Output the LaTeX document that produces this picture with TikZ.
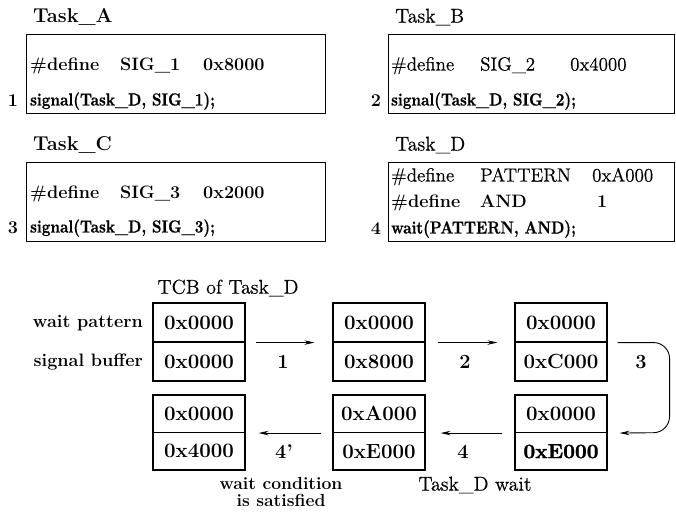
\documentclass[tikz,border=0pt]{standalone}
\usepackage{fontspec}
\usetikzlibrary{arrows.meta}
\newfontface\heavyface{lmroman10-bold.otf}[FakeBold=1.2]
\newfontface\callface{lmroman10-bold.otf}[FakeBold=0.7]
\newfontface\medface{lmroman12-regular.otf}[FakeBold=0.5]
\begin{document}
\begin{tikzpicture}[x=1pt,y=-1pt,
  title/.style={anchor=west, inner sep=0pt, font=\medface\fontsize{20}{24}\selectfont},
  btitle/.style={title, font=\bfseries\fontsize{20}{24}\selectfont},
  code/.style={anchor=west, inner sep=0pt, text height=13pt, text depth=4pt,
    font=\bfseries\fontsize{18}{21}\selectfont},
  rcode/.style={code, font=\medface\fontsize{19}{22}\selectfont},
  call/.style={code, xscale=0.86, font=\callface\fontsize{17.5}{21}\selectfont},
  num/.style={inner sep=0pt, font=\bfseries\fontsize{18}{21}\selectfont},
  codebox/.style={draw, line width=1.1pt, anchor=north west, inner sep=0pt},
  cell/.style={draw, line width=1.1pt, minimum width=92pt, minimum height=39pt,
    inner sep=0pt, font=\bfseries\fontsize{20.5}{24}\selectfont},
  cell2/.style={cell, minimum height=37.5pt},
  side/.style={anchor=east, inner sep=0pt, font=\bfseries\fontsize{18}{21}\selectfont},
  note/.style={inner sep=0pt, font=\medface\fontsize{20}{24}\selectfont},
  bnote/.style={inner sep=0pt, font=\bfseries\fontsize{17.5}{20}\selectfont},
  arrlbl/.style={inner sep=0pt, font=\bfseries\fontsize{20}{24}\selectfont},
  arr/.style={line width=0.9pt, -{Stealth[length=10pt, width=4.5pt]}}
]
\useasboundingbox (0,0) rectangle (676,511);

% ---- task code boxes ----
\node[btitle] (tA) at (33,17) {Task\_A};
\node[codebox, minimum width=299pt, minimum height=79pt] (boxA) at (26,34) {};
\node[code] (a1) at (30,66) {\makebox[90pt][l]{\#define}\makebox[83pt][l]{SIG\_1}0x8000};
\node[call] (a2) at (30,101) {signal(Task\_D, SIG\_1);};
\node[num] (n1) at (13,101) {1};

\node[title] (tB) at (395,17) {Task\_B};
\node[codebox, minimum width=286pt, minimum height=79pt] (boxB) at (388,34) {};
\node[rcode] (b1) at (391,66) {\makebox[89pt][l]{\#define}\makebox[90pt][l]{SIG\_2}0x4000};
\node[call] (b2) at (391,101) {signal(Task\_D, SIG\_2);};
\node[num] (n2) at (376,101) {2};

\node[btitle] (tC) at (33,145) {Task\_C};
\node[codebox, minimum width=299pt, minimum height=79pt] (boxC) at (26,162) {};
\node[code] (c1) at (30,194) {\makebox[90pt][l]{\#define}\makebox[83pt][l]{SIG\_3}0x2000};
\node[call] (c2) at (30,228) {signal(Task\_D, SIG\_3);};
\node[num] (n3) at (13,228) {3};

\node[title] (tD) at (395,145) {Task\_D};
\node[codebox, minimum width=286pt, minimum height=79pt] (boxD) at (388,162) {};
\node[rcode] (d1) at (391,177) {\makebox[89pt][l]{\#define}\makebox[112pt][l]{PATTERN}0xA000};
\node[code] (d2) at (391,203) {\makebox[89pt][l]{\#define}\makebox[117pt][l]{AND}1};
\node[call] (d3) at (391,229) {wait(PATTERN, AND);};
\node[num] (n4) at (376,229) {4};

% ---- TCB states ----
\node[note] (tcb) at (228,288) {TCB of Task\_D};
\node[side] (wp) at (143,323) {wait pattern};
\node[side] (sb) at (143,362) {signal buffer};

\node[cell] (w1) at (199,322.5) {0x0000};
\node[cell] (s1) at (199,361.5) {0x0000};
\node[cell] (w2) at (379,322.5) {0x0000};
\node[cell] (s2) at (379,361.5) {0x8000};
\node[cell] (w3) at (561,322.5) {0x0000};
\node[cell] (s3) at (561,361.5) {0xC000};

\node[cell2] (w4) at (199,413.75) {0x0000};
\node[cell2] (s4) at (199,451.25) {0x4000};
\node[cell2] (w5) at (379,413.75) {0xA000};
\node[cell2] (s5) at (379,451.25) {0xE000};
\node[cell2] (w6) at (561,413.75) {0x0000};
\node[cell2, line width=1.5pt, font=\heavyface\fontsize{20.5}{24}\selectfont] (s6) at (561,451.25) {0xE000};

% ---- transitions ----
\draw[arr] ([xshift=10pt]w1.south east) -- ([xshift=-18pt]w2.south west);
\node[arrlbl] (l1) at (283,362) {1};
\draw[arr] ([xshift=12pt]w2.south east) -- ([xshift=-17pt]w3.south west);
\node[arrlbl] (l2) at (465,362) {2};
\draw[arr, rounded corners=16pt] ([xshift=10pt]w3.south east) -- ++(52,0)
  -- ++(0,90) -- ([xshift=12pt]w6.south east);
\node[arrlbl] (l3) at (641,362) {3};
\draw[arr] ([xshift=-12pt]w6.south west) -- ([xshift=15pt]w5.south east);
\node[arrlbl] (l4) at (463,452) {4};
\draw[arr] ([xshift=-11pt]w5.south west) -- ([xshift=13pt]w4.south east);
\node[arrlbl] (l4p) at (284,452) {4'};

\node[bnote] (sat1) at (281,483) {wait condition};
\node[bnote] (sat2) at (281,500) {is satisfied};
\node[note] (dw) at (475,485) {Task\_D wait};
\end{tikzpicture}
\end{document}
